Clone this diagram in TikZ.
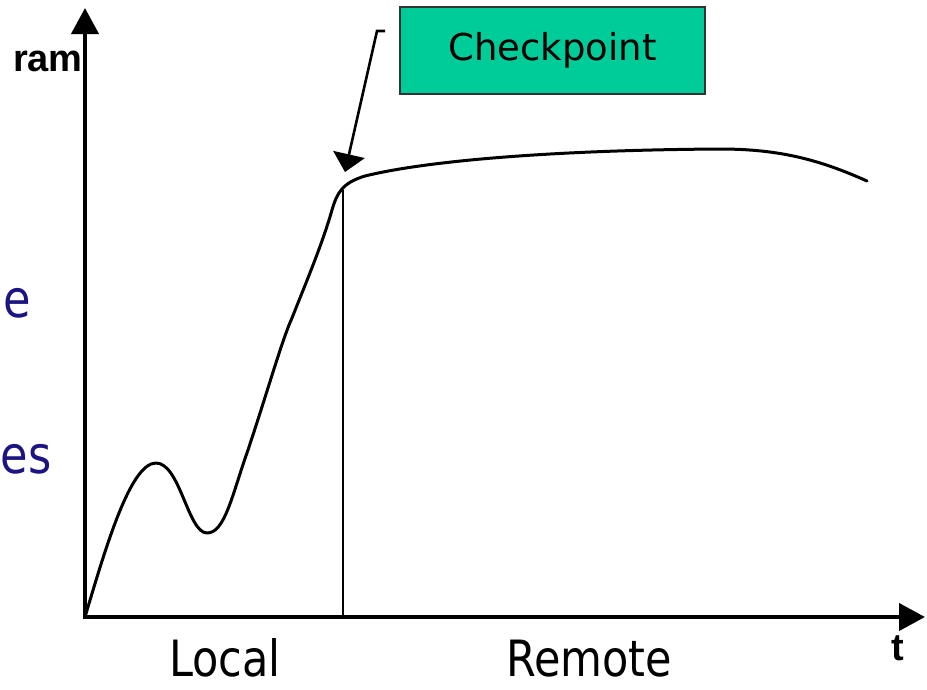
\documentclass[tikz,border=0pt]{standalone}
\usepackage{fontspec}
\setmainfont{DejaVu Sans}
\newfontfamily\labelfont[FakeStretch=0.86]{DejaVu Sans}
\newfontfamily\axisfont{Liberation Sans}
\usetikzlibrary{arrows.meta}
\definecolor{boxgreen}{HTML}{00CC99}
\definecolor{boxedge}{HTML}{333333}
\definecolor{navytext}{RGB}{28,20,130}
\tikzset{
  axisline/.style={line width=4pt},
  curveline/.style={line width=3pt, line join=round, line cap=round},
  markline/.style={line width=2.6pt},
  calloutbox/.style={draw=boxedge, line width=2pt, fill=boxgreen, inner sep=0pt,
    minimum width=305pt, minimum height=87pt,
    font=\fontsize{37}{40}\selectfont},
  axislabel/.style={inner sep=0pt, font=\axisfont\bfseries\fontsize{38}{40}\selectfont},
  regionlabel/.style={inner sep=0pt, font=\labelfont\fontsize{50}{54}\selectfont},
  sidetext/.style={inner sep=0pt, text=navytext, font=\labelfont\fontsize{52}{56}\selectfont}
}
\begin{document}
\begin{tikzpicture}[x=1pt, y=-1pt]
  \useasboundingbox (0,0) rectangle (927,689);

  % axes
  \coordinate (origin) at (85,617);
  \coordinate (ytop) at (85,8);
  \coordinate (xend) at (925,617);
  \draw[axisline, -{Triangle[length=26pt, width=27pt]}] (85,619) -- (ytop);
  \draw[axisline, -{Triangle[length=26pt, width=27pt]}] (83,617) -- (xend);
  \node[axislabel, anchor=base east] (ramlabel) at (83,71) {ram};
  \node[axislabel, anchor=base] (tlabel) at (898,660) {t};

  % usage curve
  \draw[curveline] (origin)
     .. controls (105,550) and (130,463) .. (156,463)
     .. controls (180,463) and (188,533) .. (207,533)
     .. controls (225,533) and (232,495) .. (248,450)
     .. controls (268,390) and (282,340) .. (292,318)
     .. controls (305,285) and (322,245) .. (332,210)
     .. controls (337,193) and (342,183) .. (365,176)
     .. controls (430,160) and (560,150) .. (720,149)
     .. controls (780,149) and (820,160) .. (867,181);

  % checkpoint marker
  \coordinate (marktop) at (343,190);
  \coordinate (markbase) at (343,617);
  \draw[markline] (marktop) -- (markbase);

  % callout
  \node[calloutbox] (checkpoint) at (552.5,50.5) {Checkpoint};
  \coordinate (calltick) at (385,31);
  \coordinate (callbend) at (377,31);
  \coordinate (calltip) at (345,172);
  \draw[markline, -{Triangle[length=18pt, width=32pt]}] (calltick) -- (callbend) -- (calltip);

  % phase labels
  \node[regionlabel, anchor=base] (local) at (225,676) {Local};
  \node[regionlabel, anchor=base] (remote) at (589,676) {Remote};

  % side texts
  \node[sidetext, anchor=base east] (sideA) at (31,317) {e};
  \node[sidetext, anchor=base east] (sideB) at (52,473) {es};
\end{tikzpicture}
\end{document}
